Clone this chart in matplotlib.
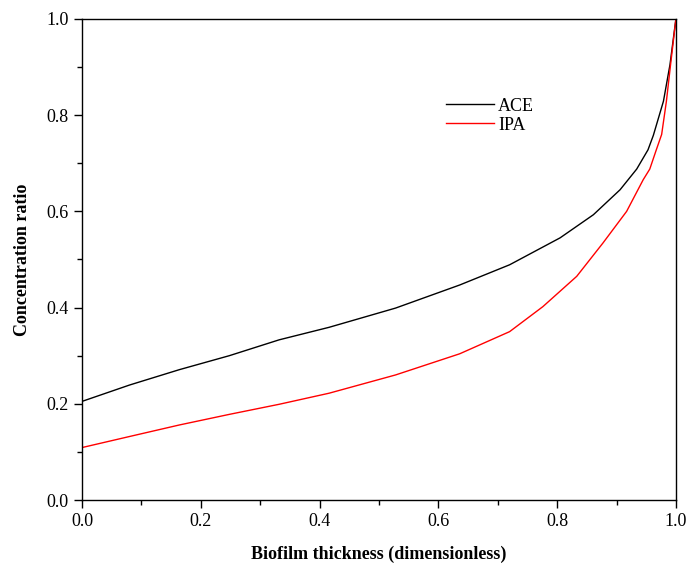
import matplotlib.pyplot as plt
from matplotlib.ticker import MultipleLocator

# values
ace_x = [0.0, 0.08, 0.164, 0.248, 0.332, 0.416, 0.528, 0.636, 0.720, 0.805,
         0.861, 0.906, 0.934, 0.953, 0.962, 0.979, 0.990, 1.0]
ace_y = [0.205, 0.239, 0.271, 0.300, 0.333, 0.359, 0.399, 0.447, 0.489, 0.545,
         0.593, 0.645, 0.688, 0.728, 0.758, 0.829, 0.905, 1.0]

ipa_x = [0.0, 0.08, 0.164, 0.248, 0.332, 0.416, 0.528, 0.636, 0.720, 0.776,
         0.833, 0.877, 0.917, 0.945, 0.956, 0.967, 0.976, 0.984, 0.991, 1.0]
ipa_y = [0.109, 0.132, 0.156, 0.178, 0.199, 0.222, 0.260, 0.304, 0.350, 0.402,
         0.465, 0.534, 0.600, 0.666, 0.688, 0.728, 0.760, 0.829, 0.905, 1.0]

plt.rcParams['font.family'] = ['Liberation Serif', 'DejaVu Serif']

fig = plt.figure(figsize=(6.89, 5.70), dpi=100)
ax = fig.add_axes([0.119, 0.1228, 0.862, 0.8439])

ax.plot(ace_x, ace_y, color='black', lw=1.0, label='ACE')
ax.plot(ipa_x, ipa_y, color='red', lw=1.0, label='IPA')

ax.set_xlim(0, 1)
ax.set_ylim(0, 1)
ax.xaxis.set_major_locator(MultipleLocator(0.2))
ax.xaxis.set_minor_locator(MultipleLocator(0.1))
ax.yaxis.set_major_locator(MultipleLocator(0.2))
ax.yaxis.set_minor_locator(MultipleLocator(0.1))
ax.xaxis.set_major_formatter(lambda v, p: '%.1f' % v)
ax.yaxis.set_major_formatter(lambda v, p: '%.1f' % v)
ax.tick_params(which='both', direction='out', top=False, right=False,
               labelsize=13, width=1.0)
ax.tick_params(which='major', length=6)
ax.tick_params(which='minor', length=3.5)
for s in ax.spines.values():
    s.set_linewidth(1.0)

ax.set_xlabel('Biofilm thickness (dimensionless)', fontsize=13,
              fontweight='bold', labelpad=11)
ax.set_ylabel('Concentration ratio', fontsize=13, fontweight='bold',
              labelpad=11)

ax.legend(loc='upper left', bbox_to_anchor=(0.585, 0.87), frameon=False,
          fontsize=13, handlelength=2.7, handletextpad=0.2, labelspacing=0.1)

fig.savefig('out.png', dpi=100)
